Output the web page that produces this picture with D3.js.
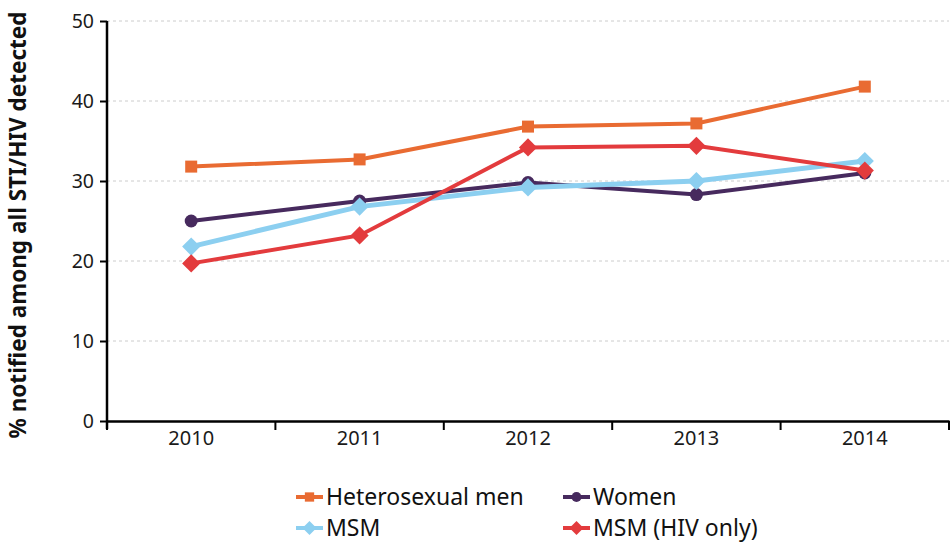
<!DOCTYPE html>
<html>
<head>
<meta charset="utf-8">
<script src="https://cdn.jsdelivr.net/npm/d3@7"></script>
<style>
  body { margin: 0; background: #fff; }
  svg { font-family: "Noto Sans", "Open Sans", sans-serif; }
</style>
</head>
<body>
<div id="chart"><svg></svg></div>
<script>
const years = ["2010", "2011", "2012", "2013", "2014"];
const heteroMen = [31.8, 32.7, 36.8, 37.2, 41.8];
const women = [25.0, 27.5, 29.8, 28.3, 31.0];
const msm = [21.8, 26.8, 29.2, 30.0, 32.5];
const msmHiv = [19.7, 23.2, 34.2, 34.4, 31.3];
const yTicks = [0, 10, 20, 30, 40, 50];

const width = 950;
const height = 542;
const margin = {top: 21, right: 1, bottom: 120, left: 107};

// diamond = square turned 45 degrees
let series = [
  {name: "Heterosexual men", values: heteroMen, color: "#e96b32", symbol: d3.symbolSquare, size: 144, rot: 0, lw: 4},
  {name: "Women", values: women, color: "#472a5e", symbol: d3.symbolCircle, size: 133, rot: 0, lw: 4},
  {name: "MSM", values: msm, color: "#8ccff0", symbol: d3.symbolSquare, size: 165, rot: 45, lw: 5},
  {name: "MSM (HIV only)", values: msmHiv, color: "#e33b3d", symbol: d3.symbolSquare, size: 165, rot: 45, lw: 4}
];

let svg = d3.select("#chart").select("svg")
  .attr("width", width)
  .attr("height", height);

let x = d3.scaleBand()
  .domain(years)
  .range([margin.left, width - margin.right]);

let y = d3.scaleLinear()
  .domain([0, 50])
  .range([height - margin.bottom - 1, margin.top]);

// gridlines
svg.append("g")
  .selectAll("line")
  .data(yTicks.filter(d => d > 0))
  .enter()
  .append("line")
  .attr("x1", margin.left)
  .attr("x2", width - margin.right)
  .attr("y1", d => y(d))
  .attr("y2", d => y(d))
  .attr("stroke", "#cccccc")
  .attr("stroke-width", 1)
  .attr("stroke-dasharray", "3,3");

// y axis
let yAxis = svg.append("g")
  .attr("transform", `translate(${margin.left},0)`)
  .call(d3.axisLeft(y).tickValues(yTicks).tickSize(7).tickPadding(6))
  .attr("font-family", null)
  .attr("font-size", 19.5);
yAxis.select(".domain").attr("stroke", "#000").attr("stroke-width", 2.5).attr("d", `M0,${y(50)}V${y(0) + 8}`);
yAxis.selectAll(".tick line").attr("stroke", "#000").attr("stroke-width", 2);
yAxis.selectAll(".tick text").attr("fill", "#1a1a1a");

// x axis
let xAxis = svg.append("g")
  .attr("transform", `translate(0,${y(0)})`)
  .call(d3.axisBottom(x).tickSize(0).tickPadding(10))
  .attr("font-family", null)
  .attr("font-size", 20);
xAxis.select(".domain").attr("stroke", "#000").attr("stroke-width", 2.5);
xAxis.selectAll(".tick text").attr("fill", "#1a1a1a");
xAxis.selectAll("line.sep")
  .data(years.concat(["end"]))
  .enter()
  .append("line")
  .attr("class", "sep")
  .attr("x1", (d, i) => i < years.length ? x(d) : x(years[years.length - 1]) + x.bandwidth())
  .attr("x2", (d, i) => i < years.length ? x(d) : x(years[years.length - 1]) + x.bandwidth())
  .attr("y1", 0)
  .attr("y2", 9)
  .attr("stroke", "#000")
  .attr("stroke-width", 2);

// y title
svg.append("text")
  .attr("transform", `translate(18,${(y(0) + y(50)) / 2 + 4}) rotate(-90)`)
  .attr("text-anchor", "middle")
  .attr("dy", "0.35em")
  .style("font-size", "22.5px")
  .attr("font-weight", "bold")
  .attr("fill", "#111")
  .text("% notified among all STI/HIV detected");

let cx = d => x(d) + x.bandwidth() / 2;
let line = d3.line()
  .x((d, i) => cx(years[i]))
  .y(d => y(d));

let groups = svg.selectAll("g.series")
  .data(series)
  .enter()
  .append("g")
  .attr("class", "series");

groups.append("path")
  .attr("d", d => line(d.values))
  .attr("fill", "none")
  .attr("stroke", d => d.color)
  .attr("stroke-width", d => d.lw);

groups.each(function(s) {
  d3.select(this).selectAll("path.pt")
    .data(s.values)
    .enter()
    .append("path")
    .attr("class", "pt")
    .attr("transform", (d, i) => `translate(${cx(years[i])},${y(d)}) rotate(${s.rot})`)
    .attr("d", d3.symbol().type(s.symbol).size(s.size))
    .attr("fill", s.color);
});

// legend
let legendPos = [[296, 497], [563, 497], [296, 528], [563, 528]];
let legend = svg.selectAll("g.legend")
  .data(series)
  .enter()
  .append("g")
  .attr("class", "legend")
  .attr("transform", (d, i) => `translate(${legendPos[i][0]},${legendPos[i][1]})`);

legend.append("line")
  .attr("x1", 0).attr("x2", 27)
  .attr("y1", 0).attr("y2", 0)
  .attr("stroke", d => d.color)
  .attr("stroke-width", 4);

legend.append("path")
  .attr("transform", d => `translate(13.5,0) rotate(${d.rot})`)
  .attr("d", d => d3.symbol().type(d.symbol).size(d.size * 0.6)())
  .attr("fill", d => d.color);

legend.append("text")
  .attr("x", 30)
  .attr("dy", "0.35em")
  .style("font-size", "23px")
  .attr("fill", "#111")
  .text(d => d.name);
</script>
</body>
</html>
